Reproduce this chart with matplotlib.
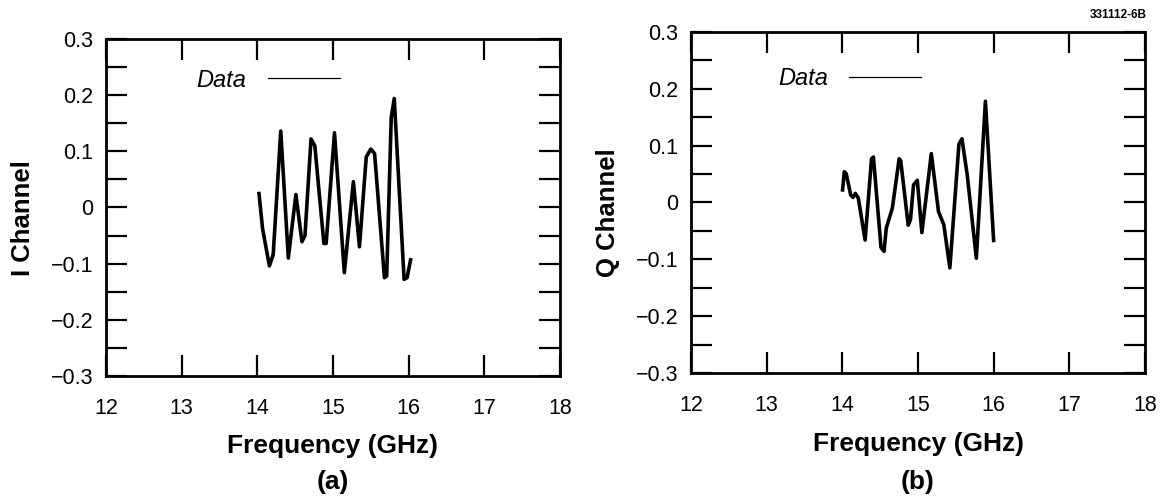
import matplotlib
matplotlib.use("Agg")
import matplotlib.pyplot as plt
from matplotlib.lines import Line2D
from matplotlib.ticker import FixedLocator

plt.rcParams['font.family'] = ['Liberation Sans', 'DejaVu Sans']

# ---- data ----
freq_i = [14.02, 14.07, 14.16, 14.21, 14.31, 14.41, 14.51, 14.59, 14.63, 14.71,
          14.76, 14.88, 14.91, 15.02, 15.15, 15.27, 15.35, 15.44, 15.50, 15.55,
          15.68, 15.71, 15.77, 15.81, 15.94, 15.98, 16.03]
i_channel = [0.028, -0.038, -0.104, -0.084, 0.136, -0.090, 0.023, -0.061, -0.050, 0.122,
             0.110, -0.064, -0.064, 0.133, -0.116, 0.046, -0.070, 0.090, 0.104, 0.096,
             -0.125, -0.122, 0.160, 0.194, -0.128, -0.125, -0.090]

freq_q = [14.00, 14.025, 14.05, 14.11, 14.14, 14.17, 14.21, 14.30, 14.385, 14.41,
          14.51, 14.55, 14.58, 14.66, 14.75, 14.77, 14.87, 14.90, 14.94, 14.99,
          15.05, 15.175, 15.27, 15.34, 15.42, 15.54, 15.58, 15.65, 15.77, 15.89, 16.00]
q_channel = [0.019, 0.054, 0.051, 0.013, 0.009, 0.016, 0.008, -0.066, 0.077, 0.080,
             -0.079, -0.086, -0.045, -0.010, 0.077, 0.074, -0.040, -0.030, 0.031, 0.039,
             -0.053, 0.086, -0.016, -0.039, -0.115, 0.103, 0.112, 0.048, -0.098, 0.178, -0.070]

x_ticks = [12, 13, 14, 15, 16, 17, 18]
x_tick_labels = ['12', '13', '14', '15', '16', '17', '18']
y_ticks = [-0.3, -0.2, -0.1, 0.0, 0.1, 0.2, 0.3]
y_tick_labels = ['\u22120.3', '\u22120.2', '\u22120.1', '0', '0.1', '0.2', '0.3']
y_minor_ticks = [-0.25, -0.15, -0.05, 0.05, 0.15, 0.25]
x_label = 'Frequency (GHz)'
y_labels = ['I Channel', 'Q Channel']
panel_labels = ['(a)', '(b)']
legend_label = 'Data'
figure_id = '331112-6B'

fig = plt.figure(figsize=(11.63, 4.99), dpi=100)
ax1 = fig.add_axes([0.0911, 0.2465, 0.3904, 0.6754])
ax2 = fig.add_axes([0.5942, 0.2525, 0.3904, 0.6834])

panels = [
    (ax1, freq_i, i_channel, y_labels[0], (0.200, 0.878), 0.2863),
    (ax2, freq_q, q_channel, y_labels[1], (0.192, 0.863), 0.7893),
]

for ax, fx, fy, ylab, leg_pos, px in panels:
    ax.plot(fx, fy, color='black', lw=2.6, solid_joinstyle='round',
            solid_capstyle='butt')
    ax.set_xlim(12, 18)
    ax.set_ylim(-0.3, 0.3)
    ax.set_xticks(x_ticks)
    ax.set_xticklabels(x_tick_labels)
    ax.set_yticks(y_ticks)
    ax.set_yticklabels(y_tick_labels)
    ax.yaxis.set_minor_locator(FixedLocator(y_minor_ticks))
    ax.tick_params(axis='both', which='both', direction='in', length=15,
                   width=1.6, top=True, right=True, labelsize=15.5, color='black')
    ax.tick_params(axis='x', pad=16)
    ax.tick_params(axis='y', pad=9)
    for sp in ax.spines.values():
        sp.set_linewidth(2.0)
    ax.set_xlabel(x_label, fontsize=19, fontweight='bold')
    ax.xaxis.set_label_coords(0.5, -0.172)
    ax.set_ylabel(ylab, fontsize=18.5, fontweight='bold')
    ax.yaxis.set_label_coords(-0.157, 0.47)
    handle = Line2D([], [], color='black', lw=0.9)
    ax.legend([handle], [legend_label], loc='center left',
              bbox_to_anchor=leg_pos, markerfirst=False, frameon=False,
              borderpad=0, borderaxespad=0, handlelength=3.05,
              handletextpad=0.9, prop={'style': 'italic', 'size': 17})

fig.text(0.2863, 0.034, panel_labels[0], ha='center', va='center',
         fontsize=19, fontweight='bold')
fig.text(0.7893, 0.034, panel_labels[1], ha='center', va='center',
         fontsize=19, fontweight='bold')
fig.text(1147 / 1163, 1 - 15 / 499, figure_id, ha='right', va='center',
         fontsize=8.5, fontweight='bold')

fig.savefig('out.png', dpi=100)
